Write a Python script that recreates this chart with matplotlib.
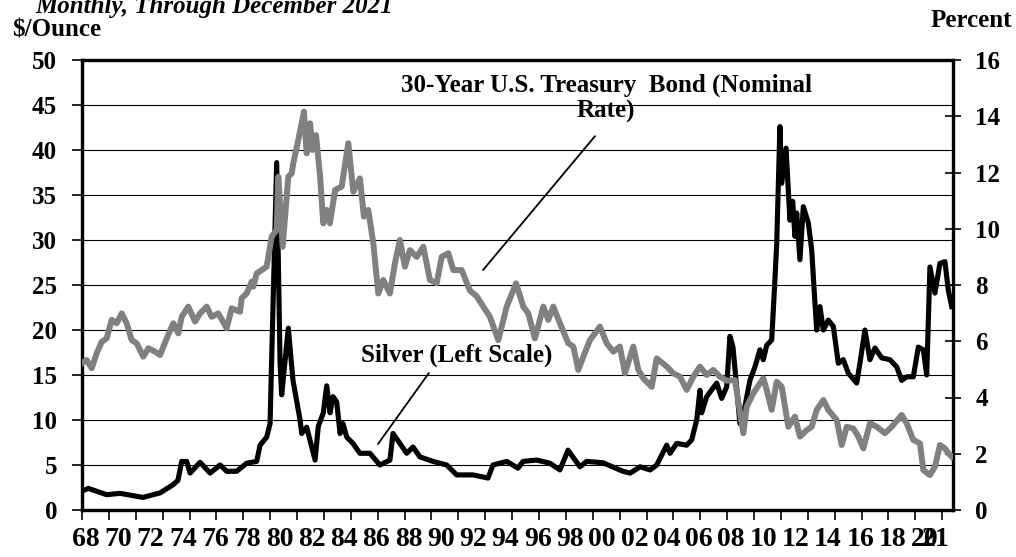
import numpy as np
import matplotlib
matplotlib.use("Agg")
import matplotlib.pyplot as plt

# Silver price ($/ounce)
silver_years = [1968.00, 1968.39, 1969.53, 1970.36, 1971.78, 1972.84, 1973.64, 1973.95, 1974.18,
                1974.49, 1974.70, 1975.32, 1975.94, 1976.56, 1976.97, 1977.59, 1978.21, 1978.83,
                1979.04, 1979.45, 1979.66, 1979.76, 1980.07, 1980.28, 1980.38, 1980.79, 1981.08,
                1981.52, 1981.62, 1981.93, 1982.45, 1982.65, 1982.96, 1983.17, 1983.38, 1983.56,
                1983.79, 1984.00, 1984.18, 1984.41, 1984.80, 1985.23, 1985.85, 1986.47, 1987.09,
                1987.28, 1987.71, 1988.13, 1988.52, 1988.95, 1989.76, 1990.61, 1991.23, 1992.24,
                1993.17, 1993.48, 1994.33, 1995.03, 1995.34, 1996.19, 1997.01, 1997.63, 1998.13,
                1998.87, 1999.29, 2000.30, 2001.54, 2001.98, 2002.60, 2003.22, 2003.63, 2004.25,
                2004.46, 2004.87, 2005.49, 2005.80, 2006.11, 2006.31, 2006.42, 2006.73, 2007.35,
                2007.66, 2007.97, 2008.17, 2008.36, 2008.79, 2008.90, 2009.10, 2009.41, 2009.72,
                2010.03, 2010.24, 2010.45, 2010.76, 2010.96, 2011.07, 2011.27, 2011.38, 2011.65,
                2011.79, 2011.89, 2012.06, 2012.20, 2012.31, 2012.51, 2012.72, 2013.03, 2013.24,
                2013.44, 2013.55, 2013.75, 2013.96, 2014.27, 2014.58, 2014.89, 2015.20, 2015.51,
                2016.03, 2016.23, 2016.54, 2016.85, 2017.16, 2017.58, 2018.09, 2018.51, 2018.82,
                2019.13, 2019.54, 2019.85, 2020.16, 2020.37, 2020.57, 2020.88, 2021.19, 2021.50,
                2021.71, 2021.92]
silver_price = [2.1, 2.4, 1.7, 1.85, 1.4, 1.9, 2.8, 3.3, 5.4,
                5.4, 4.1, 5.3, 4.1, 5.0, 4.3, 4.3, 5.2, 5.4,
                7.2, 8.1, 9.6, 16.9, 38.6, 16.3, 12.8, 20.2, 14.4,
                10.0, 8.5, 9.2, 5.55, 9.3, 10.8, 13.8, 10.8, 12.6,
                12.0, 8.5, 9.6, 8.1, 7.4, 6.3, 6.3, 5.0, 5.55,
                8.5, 7.4, 6.3, 7.0, 5.9, 5.4, 5.0, 3.9, 3.9,
                3.55, 5.0, 5.4, 4.65, 5.4, 5.55, 5.2, 4.45, 6.65,
                4.8, 5.4, 5.25, 4.3, 4.1, 4.8, 4.45, 5.0, 7.2,
                6.3, 7.4, 7.2, 7.8, 10.0, 13.3, 10.8, 12.6, 14.1,
                12.4, 13.7, 19.3, 18.1, 9.6, 10.0, 11.5, 14.4, 15.9,
                17.8, 16.7, 18.3, 18.9, 25.6, 29.6, 42.6, 36.3, 40.2,
                35.6, 32.2, 34.3, 30.4, 33.0, 27.8, 33.7, 31.9, 28.9,
                23.0, 20.0, 22.6, 20.0, 21.1, 20.4, 16.3, 16.7, 15.2,
                14.1, 16.3, 20.0, 16.7, 18.0, 16.9, 16.7, 15.9, 14.4,
                14.8, 14.8, 18.1, 17.8, 15.0, 27.0, 24.1, 27.4, 27.6,
                24.4, 22.6]

# 30-year U.S. Treasury bond yield (percent)
bond_years = [1968.00, 1968.29, 1968.60, 1968.91, 1969.22, 1969.53, 1969.84, 1970.15, 1970.46,
              1970.77, 1971.08, 1971.39, 1971.80, 1972.11, 1972.53, 1972.84, 1973.25, 1973.66,
              1973.97, 1974.18, 1974.59, 1975.01, 1975.32, 1975.73, 1976.04, 1976.45, 1976.97,
              1977.28, 1977.80, 1977.90, 1978.21, 1978.52, 1978.62, 1978.83, 1979.45, 1979.76,
              1980.07, 1980.17, 1980.44, 1980.79, 1981.00, 1981.10, 1981.41, 1981.76, 1981.93,
              1982.14, 1982.30, 1982.51, 1982.76, 1982.96, 1983.17, 1983.37, 1983.69, 1984.10,
              1984.51, 1984.82, 1985.23, 1985.48, 1985.75, 1986.06, 1986.37, 1986.68, 1987.09,
              1987.40, 1987.71, 1988.02, 1988.33, 1988.75, 1989.16, 1989.57, 1989.99, 1990.30,
              1990.71, 1991.02, 1991.54, 1992.05, 1992.47, 1992.88, 1993.29, 1993.81, 1994.33,
              1994.91, 1995.36, 1995.67, 1996.08, 1996.60, 1996.91, 1997.22, 1997.63, 1998.15,
              1998.46, 1998.77, 1999.08, 1999.49, 2000.11, 2000.53, 2000.94, 2001.35, 2001.66,
              2002.18, 2002.49, 2002.80, 2003.32, 2003.63, 2004.25, 2004.66, 2005.07, 2005.49,
              2005.90, 2006.31, 2006.73, 2007.14, 2007.55, 2007.97, 2008.48, 2009.00, 2009.21,
              2009.62, 2010.03, 2010.24, 2010.45, 2010.76, 2011.07, 2011.38, 2011.79, 2012.20,
              2012.51, 2012.93, 2013.24, 2013.55, 2013.96, 2014.27, 2014.79, 2015.10, 2015.41,
              2015.82, 2016.13, 2016.44, 2016.85, 2017.27, 2017.78, 2018.20, 2018.82, 2019.13,
              2019.54, 2019.95, 2020.16, 2020.57, 2020.88, 2021.19, 2021.50, 2021.71, 2021.92]
bond_yield = [5.22, 5.33, 5.04, 5.57, 5.98, 6.10, 6.76, 6.64, 6.99,
              6.64, 6.04, 5.93, 5.45, 5.75, 5.63, 5.51, 6.10, 6.64,
              6.28, 6.87, 7.23, 6.70, 6.99, 7.23, 6.87, 6.99, 6.46,
              7.17, 7.05, 7.53, 7.70, 8.12, 7.94, 8.41, 8.65, 9.72,
              9.96, 11.85, 9.36, 11.85, 11.97, 12.33, 13.16, 14.16, 12.68,
              13.75, 12.80, 13.33, 11.85, 10.19, 10.67, 10.19, 11.38, 11.50,
              13.04, 11.32, 11.79, 10.43, 10.67, 9.48, 7.70, 8.18, 7.70,
              8.77, 9.60, 8.65, 9.24, 9.00, 9.36, 8.18, 8.06, 9.00,
              9.13, 8.53, 8.53, 7.80, 7.60, 7.23, 6.87, 6.04, 7.23,
              8.06, 7.23, 6.99, 6.10, 7.23, 6.76, 7.23, 6.64, 5.93,
              5.81, 4.98, 5.45, 6.04, 6.52, 5.93, 5.63, 5.81, 4.86,
              5.81, 4.98, 4.68, 4.38, 5.39, 5.10, 4.86, 4.74, 4.27,
              4.74, 5.10, 4.80, 4.98, 4.74, 4.60, 4.62, 2.73, 3.67,
              4.15, 4.50, 4.68, 4.27, 3.56, 4.56, 4.38, 2.96, 3.32,
              2.61, 2.84, 2.96, 3.56, 3.91, 3.56, 3.20, 2.31, 2.96,
              2.90, 2.61, 2.19, 3.08, 2.96, 2.73, 2.96, 3.38, 3.08,
              2.49, 2.37, 1.42, 1.24, 1.54, 2.31, 2.19, 2.02, 1.90]

label_years = list(range(1968, 2021, 2))
tick_labels = ["%02d" % (y % 100) for y in label_years] + ["21"]

font = "Liberation Serif"
plt.rcParams["font.family"] = [font, "DejaVu Serif"]
plt.rcParams["font.weight"] = "bold"

fig = plt.figure(figsize=(10.16, 5.57), dpi=100)
ax = fig.add_axes([82 / 1016, 47 / 557, 871 / 1016, 450 / 557])
ax2 = ax.twinx()

ax.plot(silver_years, silver_price, color="black", lw=3.7, solid_joinstyle="round", zorder=3)
ax2.plot(bond_years, bond_yield, color="#808080", lw=4.3, solid_joinstyle="round", zorder=3)

ax.set_xlim(1968, 2022)
ax.set_ylim(0, 50)
ax2.set_ylim(0, 16)

ax.set_yticks(np.arange(0, 51, 5))
ax2.set_yticks(np.arange(0, 17, 2))
for y in range(5, 50, 5):
    ax.axhline(y, color="black", lw=0.8, zorder=1)

# x axis: tick marks every 20 months, labels every 2 years
ax.set_xticks(1968 + np.arange(0, 33) * 20 / 12, minor=True)
ax.set_xticks([y + 0.25 for y in label_years] + [2020.95])
ax.set_xticklabels(tick_labels)
ax.tick_params(axis="x", which="major", length=0, pad=12, labelsize=20)
ax.tick_params(axis="x", which="minor", length=7, width=1.2, direction="out")
ax.tick_params(axis="y", length=7, width=1.2, direction="out", pad=11, labelsize=18)
ax2.tick_params(axis="y", length=12, width=1.2, direction="inout", pad=10, labelsize=18)

for a in (ax, ax2):
    for s in a.spines.values():
        s.set_linewidth(2.3)

fig.text(35 / 1016, 1 - 13 / 557, "Monthly, Through December 2021", fontsize=18,
         style="italic", weight="bold", va="baseline", ha="left")
fig.text(12 / 1016, 1 - 36 / 557, "$/Ounce", fontsize=18, weight="bold", va="baseline")
fig.text(1012 / 1016, 1 - 27 / 557, "Percent", fontsize=18, weight="bold", va="baseline", ha="right")

ax.annotate("30-Year U.S. Treasury  Bond (Nominal\nRate)", xy=(1992.86, 8.53), xycoords=ax2.transData,
            xytext=(2000.5, 14.65), textcoords=ax2.transData, ha="center", va="center",
            fontsize=18, weight="bold", linespacing=1.15,
            arrowprops=dict(arrowstyle="-", color="black", lw=1.3, relpos=(0.5, 0),
                            shrinkA=10, shrinkB=0))
ax.annotate("Silver (Left Scale)", xy=(1986.35, 7.33), xytext=(1991.2, 17.2),
            ha="center", va="center", fontsize=18, weight="bold",
            arrowprops=dict(arrowstyle="-", color="black", lw=1.3, relpos=(0.38, 0),
                            shrinkA=3, shrinkB=0))

fig.savefig("out.png", dpi=100)
